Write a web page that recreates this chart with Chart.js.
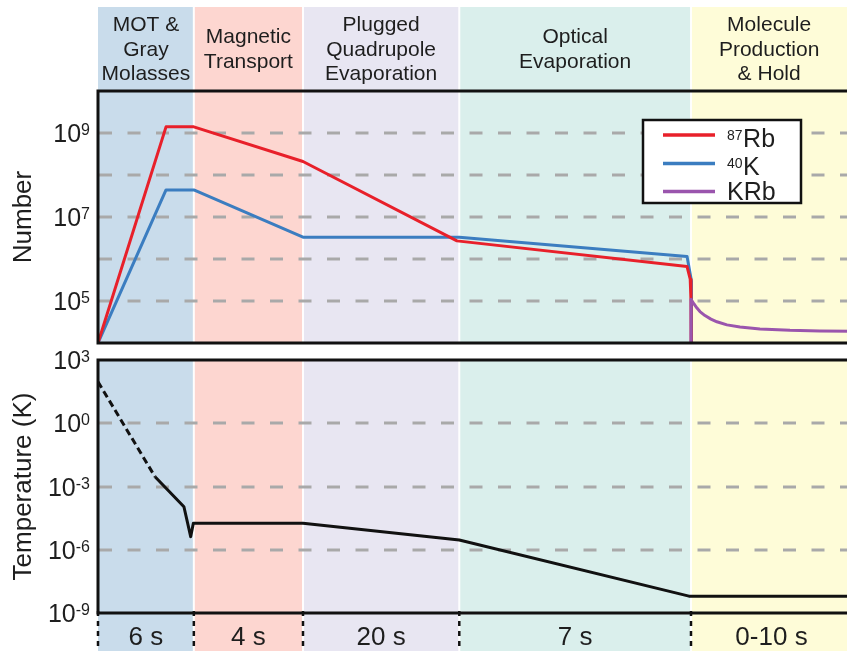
<!DOCTYPE html>
<html><head><meta charset="utf-8">
<script src="https://cdn.jsdelivr.net/npm/chart.js@4/dist/chart.umd.min.js"></script>
<style>
html,body{margin:0;padding:0;background:#fff;overflow:hidden;}
#wrap{position:relative;width:847px;height:651px;overflow:hidden;background:#fff;}
canvas{position:absolute;left:0;}
#c1{top:0;} #c2{top:345px;}
</style></head><body>
<div id="wrap">
<canvas id="c1" width="852" height="345"></canvas>
<canvas id="c2" width="852" height="306"></canvas>
</div>
<script>
// ---------- DATA ----------
const phaseLabels = [["MOT &","Gray","Molasses"],["Magnetic","Transport"],["Plugged","Quadrupole","Evaporation"],["Optical","Evaporation"],["Molecule","Production","& Hold"]];
const phaseDurations = ["6 s","4 s","20 s","7 s","0-10 s"];
// schematic (not to scale) time axis: phase boundaries
const phaseEdges = [0, 6.1, 13.05, 23, 37.75, 48];

const rbTime   = [0, 4.33, 6.1, 13.05, 22.85, 37.5, 37.7, 37.75, 37.76];
const rbNumber = [1e4, 1.4e9, 1.4e9, 2.1e8, 2.7e6, 6.6e5, 3.3e5, 1e5, 1e4];
const kTime    = [0, 4.33, 6.1, 13.05, 23, 37.5, 37.78, 37.78];
const kNumber  = [1e4, 4.4e7, 4.4e7, 3.3e6, 3.3e6, 1.15e6, 3e5, 1e4];
const krbTime   = [37.75, 37.75, 37.94, 38.13, 38.32, 38.64, 39.02, 39.40, 40.04, 40.87, 42.14, 44.05, 45.96, 48];
const krbNumber = [1e4, 1.1e5, 8.5e4, 6.8e4, 5.6e4, 4.5e4, 3.7e4, 3.2e4, 2.7e4, 2.4e4, 2.15e4, 2.0e4, 1.93e4, 1.9e4];
const tempTime   = [0, 3.63, 5.47, 5.9, 6.07, 13.05, 23, 37.62, 48];
const tempKelvin = [93, 2.9e-3, 1.1e-4, 4.2e-6, 1.8e-5, 1.8e-5, 2.9e-6, 6.3e-9, 6.3e-9];
const tempDashedSegments = 1; // first segment (extrapolated) is dashed

const numberRange = [1e4, 1e10];
const tempRange = [1e-9, 1e3];
const numberGridExps = [5,6,7,8,9];
const numberTickExps = [9,7,5];
const tempGridExps = [-6,-3,0];
const tempTickExps = [3,0,-3,-6,-9];
const seriesNames = [["87","Rb"],["40","K"],["","KRb"]];

// ---------- STYLE ----------
const FONT = '"Liberation Sans", Arial, Helvetica, sans-serif';
const TXT = '#1e1e1e';
const bandColors = ['#c9dceb','#fdd6d0','#e8e6f2','#daefec','#fefcd8'];
const seriesColors = ['#e8202a','#3b7dc0','#9a55ad'];

function pts(xs, ys){ return xs.map((x,i)=>({x, y: ys[i]})); }

function drawBands(chart, y0, y1, sepTop, sepBottom){
  const {ctx, scales:{x}} = chart;
  ctx.save();
  for (let i=0;i<bandColors.length;i++){
    const a = x.getPixelForValue(phaseEdges[i]);
    const b = x.getPixelForValue(phaseEdges[i+1]);
    ctx.fillStyle = bandColors[i];
    ctx.fillRect(a, y0, b-a, y1-y0);
  }
  ctx.fillStyle = 'rgba(255,255,255,0.95)';
  for (let i=1;i<phaseEdges.length-1;i++){
    const p = x.getPixelForValue(phaseEdges[i]);
    ctx.fillRect(p-1, sepTop, 2, sepBottom-sepTop);
  }
  ctx.restore();
}
function drawGrid(chart, exps){
  const {ctx, chartArea:ca, scales:{y}} = chart;
  ctx.save();
  ctx.strokeStyle = '#a9a9a9'; ctx.lineWidth = 3;
  ctx.setLineDash([13,15.5]);
  exps.forEach(e=>{
    const py = Math.round(y.getPixelForValue(Math.pow(10,e)));
    ctx.beginPath(); ctx.moveTo(ca.left+1, py); ctx.lineTo(ca.right, py); ctx.stroke();
  });
  ctx.restore();
}
function drawFrame(chart){
  const {ctx, chartArea:ca} = chart;
  ctx.save();
  ctx.strokeStyle = '#111'; ctx.lineWidth = 3;
  ctx.strokeRect(ca.left, ca.top, ca.right-ca.left, ca.bottom-ca.top);
  ctx.restore();
}
function drawPow(ctx, exp, right, py){
  ctx.save();
  ctx.fillStyle = TXT; ctx.textBaseline = 'alphabetic'; ctx.textAlign = 'right';
  ctx.font = '16px ' + FONT;
  const e = String(exp);
  const ew = ctx.measureText(e).width;
  ctx.fillText(e, right, py + 2);
  ctx.font = '25px ' + FONT;
  ctx.fillText('10', right - ew, py + 9);
  ctx.restore();
}
function drawTicks(chart, exps){
  const {ctx, scales:{y}} = chart;
  exps.forEach(e=> drawPow(ctx, e, 90, y.getPixelForValue(Math.pow(10,e))));
}
function drawTitle(chart, text){
  const {ctx, chartArea:ca} = chart;
  ctx.save();
  ctx.translate(24, (ca.top+ca.bottom)/2);
  ctx.rotate(-Math.PI/2);
  ctx.fillStyle = TXT; ctx.font = '26px ' + FONT;
  ctx.textAlign = 'center'; ctx.textBaseline = 'middle';
  ctx.fillText(text, 0, 0);
  ctx.restore();
}

const topPlugin = {
  id: 'topDeco',
  beforeDraw(chart){
    const {ctx, chartArea:ca, scales:{x}} = chart;
    drawBands(chart, 7, ca.bottom, 7, ca.bottom);
    ctx.save();
    ctx.fillStyle = TXT; ctx.font = '21px ' + FONT;
    ctx.textAlign = 'center'; ctx.textBaseline = 'alphabetic';
    phaseLabels.forEach((lines,i)=>{
      const cx = (x.getPixelForValue(phaseEdges[i]) + x.getPixelForValue(Math.min(phaseEdges[i+1], 47.7)))/2;
      lines.forEach((t,j)=>{
        ctx.fillText(t, cx, 55.5 + (j-(lines.length-1)/2)*24.7);
      });
    });
    ctx.restore();
  },
  beforeDatasetsDraw(chart){ drawGrid(chart, numberGridExps); },
  afterDatasetsDraw(chart){ drawFrame(chart); },
  afterDraw(chart){
    const {ctx} = chart;
    drawTicks(chart, numberTickExps);
    drawTitle(chart, 'Number');
    // legend
    ctx.save();
    ctx.fillStyle = '#fff'; ctx.fillRect(643, 120, 158, 83);
    ctx.strokeStyle = '#111'; ctx.lineWidth = 2.5; ctx.strokeRect(643, 120, 158, 83);
    const rowsY = [135, 163.5, 191.5];
    const textY = [146.5, 174.5, 200];
    seriesNames.forEach((n,i)=>{
      ctx.strokeStyle = seriesColors[i]; ctx.lineWidth = 3.5;
      ctx.beginPath(); ctx.moveTo(663, rowsY[i]); ctx.lineTo(715, rowsY[i]); ctx.stroke();
      ctx.fillStyle = TXT; ctx.textAlign = 'left'; ctx.textBaseline = 'alphabetic';
      let xx = 727;
      if (n[0]){
        ctx.font = '14px ' + FONT;
        ctx.fillText(n[0], xx, textY[i] - 6.5);
        xx += ctx.measureText(n[0]).width + 0.5;
      }
      ctx.font = '25px ' + FONT;
      ctx.fillText(n[1], xx, textY[i]);
    });
    ctx.restore();
  }
};

const bottomPlugin = {
  id: 'bottomDeco',
  beforeDraw(chart){
    const {chartArea:ca} = chart;
    drawBands(chart, ca.top, chart.height, ca.top, chart.height);
  },
  beforeDatasetsDraw(chart){ drawGrid(chart, tempGridExps); },
  afterDatasetsDraw(chart){
    const {ctx, chartArea:ca, scales:{x}} = chart;
    drawFrame(chart);
    ctx.save();
    ctx.strokeStyle = '#111'; ctx.lineWidth = 2.5; ctx.setLineDash([5,5]);
    for (let i=0;i<phaseEdges.length-1;i++){
      const p = x.getPixelForValue(phaseEdges[i]);
      ctx.beginPath(); ctx.moveTo(p, ca.bottom - 2); ctx.lineTo(p, chart.height); ctx.stroke();
    }
    ctx.setLineDash([]);
    ctx.fillStyle = TXT; ctx.font = '26px ' + FONT;
    ctx.textAlign = 'center'; ctx.textBaseline = 'alphabetic';
    phaseDurations.forEach((t,i)=>{
      const cx = (x.getPixelForValue(phaseEdges[i]) + x.getPixelForValue(phaseEdges[i+1]))/2;
      ctx.fillText(t, cx, ca.bottom + 32);
    });
    ctx.restore();
  },
  afterDraw(chart){
    drawTicks(chart, tempTickExps);
    drawTitle(chart, 'Temperature (K)');
  }
};

function baseOptions(padding, range){
  return {
    responsive: false, animation: false, events: [],
    layout: { padding },
    plugins: { legend: {display:false}, tooltip: {enabled:false} },
    elements: { point: {radius:0}, line: {borderWidth:3, tension:0, borderJoinStyle:'round', fill:false} },
    scales: {
      x: { type:'linear', min: phaseEdges[0], max: phaseEdges[phaseEdges.length-1], display:false },
      y: { type:'logarithmic', min: range[0], max: range[1], display:false }
    }
  };
}

new Chart(document.getElementById('c1'), {
  type: 'line',
  data: { datasets: [
    { label:'87Rb', data: pts(rbTime, rbNumber), borderColor: seriesColors[0], order: 1 },
    { label:'40K', data: pts(kTime, kNumber), borderColor: seriesColors[1], order: 2 },
    { label:'KRb', data: pts(krbTime, krbNumber), borderColor: seriesColors[2], order: 0 }
  ]},
  options: baseOptions({left:98, top:91, right:0, bottom:2}, numberRange),
  plugins: [topPlugin]
});

new Chart(document.getElementById('c2'), {
  type: 'line',
  data: { datasets: [
    { label:'Temperature', data: pts(tempTime, tempKelvin), borderColor:'#111',
      segment: { borderDash: c => c.p1DataIndex <= tempDashedSegments ? [7,4] : undefined } }
  ]},
  options: baseOptions({left:98, top:15, right:0, bottom:38}, tempRange),
  plugins: [bottomPlugin]
});
</script>
</body></html>
